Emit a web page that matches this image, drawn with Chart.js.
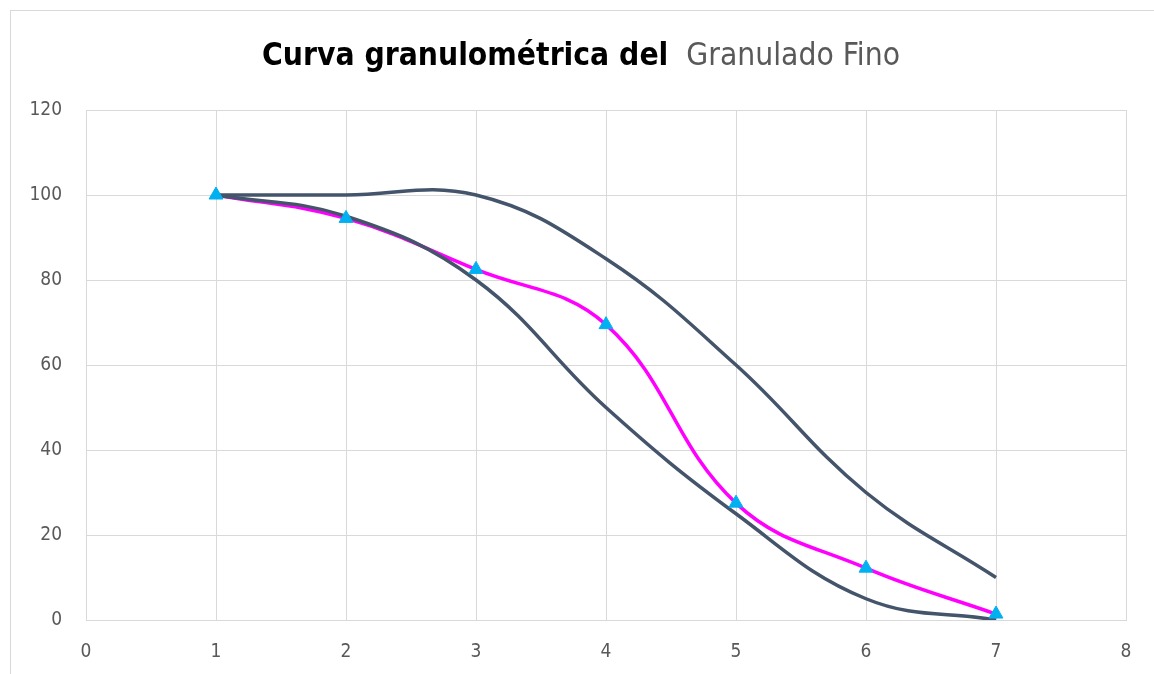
<!DOCTYPE html>
<html>
<head>
<meta charset="utf-8">
<script src="https://cdn.jsdelivr.net/npm/chart.js@4"></script>
<style>
    html, body { margin: 0; padding: 0; background: #fff; }
    #wrap { position: relative; width: 1154px; height: 674px; overflow: hidden; }
    #marco { position: absolute; left: 10px; top: 10px; width: 1160px; height: 700px; border: 1px solid #d9d9d9; box-sizing: border-box; }
    #titulo { position: absolute; left: 0; width: 1154px; top: 36px; text-align: center; padding-left: 8px; box-sizing: border-box;
              font-family: 'Liberation Sans Narrow', 'DejaVu Sans Condensed', sans-serif; font-size: 31.5px; white-space: nowrap; }
    #titulo b { color: #000; }
    #titulo span { color: #595959; }
    canvas { position: absolute; left: 0; top: 0; }
</style>
</head>
<body>
<div id="wrap">
    <div id="marco"></div>
    <canvas id="grafico" width="1154" height="674"></canvas>
    <div id="titulo"><b>Curva granulométrica del</b>&nbsp; <span>Granulado Fino</span></div>
</div>
<script>
        // ============ DATOS ============
        const tamices = [1, 2, 3, 4, 5, 6, 7];
        const limiteSuperior = [100, 100, 100, 85, 60, 30, 10];
        const limiteInferior = [100, 95, 80, 50, 25, 5, 0];
        const granuladoFino = [100, 94.5, 82.5, 69.5, 27.5, 12.2, 1.4];
        const ticksX = [0, 1, 2, 3, 4, 5, 6, 7, 8];
        const ticksY = [0, 20, 40, 60, 80, 100, 120];

        const puntos = arr => tamices.map((x, i) => ({ x: x, y: arr[i] }));

        const fuente = { family: "'Liberation Sans Narrow', 'DejaVu Sans Condensed', sans-serif", size: 19 };
        const gris = '#595959';
        const pizarra = '#44546A';

        // ============ CHART.JS ============
        const ctx = document.getElementById('grafico').getContext('2d');
        const chart = new Chart(ctx, {
            type: 'scatter',
            data: {
                datasets: [
                    {
                        // marcadores encima de todo
                        data: puntos(granuladoFino),
                        showLine: false,
                        pointStyle: 'triangle',
                        pointRadius: 8,
                        pointBackgroundColor: '#00B0F0',
                        pointBorderColor: '#00B0F0',
                        pointBorderWidth: 1
                    },
                    {
                        data: puntos(limiteSuperior),
                        showLine: true,
                        borderColor: pizarra,
                        borderWidth: 3.5,
                        pointRadius: 0,
                        tension: 0.4
                    },
                    {
                        data: puntos(limiteInferior),
                        showLine: true,
                        borderColor: pizarra,
                        borderWidth: 3.5,
                        pointRadius: 0,
                        tension: 0.4
                    },
                    {
                        data: puntos(granuladoFino),
                        showLine: true,
                        borderColor: '#FF00FF',
                        borderWidth: 3.5,
                        pointRadius: 0,
                        tension: 0.4
                    }
                ]
            },
            options: {
                responsive: false,
                animation: false,
                layout: { padding: { left: 0, right: 28, top: 110, bottom: 0 } },
                plugins: { legend: { display: false }, tooltip: { enabled: false } },
                scales: {
                    x: {
                        type: 'linear',
                        min: 0, max: 8,
                        afterBuildTicks: s => { s.ticks = ticksX.map(v => ({ value: v })); },
                        afterFit: s => { s.height = 54; },
                        grid: { color: '#d9d9d9', drawTicks: false },
                        border: { color: '#d9d9d9' },
                        ticks: { color: gris, font: fuente, padding: 21 }
                    },
                    y: {
                        min: 0, max: 120,
                        afterBuildTicks: s => { s.ticks = ticksY.map(v => ({ value: v })); },
                        afterFit: s => { s.width = 86; },
                        grid: { color: '#d9d9d9', drawTicks: false },
                        border: { color: '#d9d9d9' },
                        ticks: { color: gris, font: fuente, padding: 24 }
                    }
                }
            }
        });
</script>
</body>
</html>
